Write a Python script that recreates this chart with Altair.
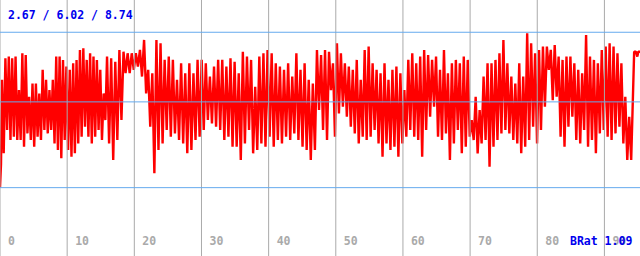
import altair as alt
import pandas as pd
import numpy as np

# Summary values shown on the chart
MIN_V, MEAN_V, MAX_V = 2.67, 6.02, 8.74
BRAT = "BRat 1.09"

# x-axis tick values / labels
x_ticks = [0, 10, 20, 30, 40, 50, 60, 70, 80, 90]

# Series values (alternating peak / trough), per chunk
start_x = [0.0, 0.15]
start_v = [2.67, 3.60]

chunk1 = [6.88, 4.01, 7.72, 4.92, 7.79, 4.53, 7.72, 4.66, 7.79, 4.53, 6.48, 4.53,
          7.92, 4.27, 7.85, 4.79, 6.22, 4.53, 6.74, 4.27, 6.74, 4.66, 6.35, 4.53,
          7.27, 4.92, 6.88, 4.79, 6.48, 4.92, 6.88, 4.40, 7.79, 4.14, 7.79, 3.82,
          7.66, 4.53, 7.40, 4.14, 7.27, 3.88, 7.53, 4.01, 7.66, 4.40, 8.05, 4.66,
          8.11, 5.05, 7.66, 4.66, 7.92, 4.40, 7.79, 4.66, 7.66, 4.92, 7.27, 4.53,
          6.35, 5.31]
chunk2 = [7.79, 4.40, 7.72, 3.75, 7.59, 4.53, 8.05, 5.31, 7.98, 7.14, 7.92, 7.14,
          7.92, 7.27, 7.92, 7.40, 8.05, 7.01, 8.44, 6.35, 7.27, 5.05, 7.14, 3.23,
          8.44, 4.14, 8.31, 4.40, 7.66, 4.92, 7.79, 4.66, 7.66, 4.79, 6.88, 4.53,
          7.53, 4.40, 7.14, 4.01, 7.53, 4.14, 7.14, 4.53, 7.66, 4.66, 7.66, 4.92,
          7.53, 5.31, 7.01, 5.18]
chunk3 = [7.40, 5.05, 7.66, 4.92, 7.66, 4.53, 7.40, 4.66, 7.72, 4.27, 7.59, 4.27,
          7.14, 3.75, 7.98, 4.40, 7.79, 4.92, 7.66, 4.01, 6.61, 4.14, 7.79, 4.40,
          7.92, 4.27, 8.05, 4.66, 7.92, 4.27, 7.53, 4.53, 7.40, 4.40, 7.27, 4.66,
          7.53, 4.53, 7.01, 4.79, 7.92, 4.53, 7.27, 4.27, 7.53, 4.14, 6.88, 3.75,
          6.74, 4.14, 8.05, 5.70]
chunk4 = [7.85, 4.92, 8.05, 4.53, 7.98, 6.48, 7.53, 4.66, 8.31, 5.57, 7.92, 5.83,
          7.53, 5.44, 7.40, 5.05, 7.27, 4.79, 7.66, 4.40, 6.88, 4.66, 8.05, 4.53,
          8.18, 4.66, 7.53, 4.92, 7.27, 4.40, 7.14, 3.88, 7.53, 4.40, 6.88, 4.14,
          7.27, 4.27, 7.40, 3.88, 7.14, 4.40, 6.48, 4.66, 7.66, 4.92, 7.92, 4.66,
          7.53, 4.53, 7.79, 3.88, 8.05, 4.92]
chunk5 = [7.85, 5.44, 7.66, 5.83, 7.79, 4.66, 7.27, 4.53, 8.05, 4.79, 7.14, 3.75,
          7.53, 4.40, 7.66, 4.92, 7.53, 4.01, 7.79, 4.27, 7.66, 4.66, 5.31, 4.53,
          6.22, 4.01, 5.70, 4.40, 7.01, 4.53, 7.53, 3.49, 7.53, 4.27, 7.66, 4.53,
          7.92, 4.79, 8.44, 4.92, 7.53, 4.79, 7.01, 4.53, 6.74, 4.40, 7.53, 4.01,
          7.01, 4.27, 8.70, 4.53, 8.31, 5.05]
chunk6 = [7.92, 4.40, 8.05, 4.92, 8.18, 5.83, 8.18, 7.27, 8.05, 6.09, 8.24, 6.22,
          7.79, 4.66, 7.66, 4.27, 7.79, 5.05, 7.79, 5.44, 7.53, 4.53, 7.27, 4.40,
          7.14, 4.92, 8.63, 4.27, 7.79, 4.53, 7.66, 4.01, 7.53, 4.79, 8.05, 4.92,
          8.18, 4.66, 8.31, 4.53, 8.18, 4.79, 7.92, 5.05, 7.53, 4.40, 6.22, 3.75,
          5.44, 3.75]
chunks = [chunk1, chunk2, chunk3, chunk4, chunk5, chunk6]
chunk_edges = [0.3, 15.94, 31.87, 47.81, 63.75, 79.68, 94.28]

tail_x = [94.43, 94.7, 94.9, 95.05, 95.3]
tail_v = [7.98, 7.98, 7.79, 7.98, 7.98]

xs = list(start_x)
vs = list(start_v)
for i, ch in enumerate(chunks):
    px = np.linspace(chunk_edges[i], chunk_edges[i + 1], len(ch), endpoint=False)
    xs.extend(px.tolist())
    vs.extend(ch)
xs.extend(tail_x)
vs.extend(tail_v)
series = pd.DataFrame({"x": xs, "v": vs, "i": range(len(xs))})

ticks_df = pd.DataFrame({"t": x_ticks, "label": [str(t) for t in x_ticks]})
hlines_df = pd.DataFrame({"v": [MIN_V, MEAN_V, MAX_V]})
info_df = pd.DataFrame({"txt": [f"{MIN_V:.2f} / {MEAN_V:.2f} / {MAX_V:.2f}"]})
brat_df = pd.DataFrame({"txt": [BRAT]})

xscale = alt.Scale(domain=[0, 95.3], nice=False, zero=False)
yscale = alt.Scale(domain=[0, 10], nice=False, zero=False)
FONT = "DejaVu Sans Mono"

line = alt.Chart(series).mark_line(
    color="#ff0000", strokeWidth=2.4, strokeJoin="bevel"
).encode(
    x=alt.X("x:Q", scale=xscale, axis=None),
    y=alt.Y("v:Q", scale=yscale, axis=None),
    order="i:Q",
)

grid = alt.Chart(ticks_df).mark_rule(color="#aaaaaa", strokeWidth=1).encode(
    x=alt.X("t:Q", scale=xscale, axis=None)
)

labels = alt.Chart(ticks_df).mark_text(
    align="left", baseline="alphabetic", dx=8, font=FONT, fontWeight="bold",
    fontSize=11.5, color="#aaaaaa"
).encode(x=alt.X("t:Q", scale=xscale, axis=None), y=alt.value(245), text="label:N")

hlines = alt.Chart(hlines_df).mark_rule(color="#66aaee", strokeWidth=1).encode(
    y=alt.Y("v:Q", scale=yscale, axis=None)
)

info = alt.Chart(info_df).mark_text(
    align="left", baseline="alphabetic", font=FONT, fontWeight="bold",
    fontSize=11.5, color="#0000ee"
).encode(x=alt.value(8), y=alt.value(19), text="txt:N")

brat = alt.Chart(brat_df).mark_text(
    align="left", baseline="alphabetic", font=FONT, fontWeight="bold",
    fontSize=11.5, color="#0000ee"
).encode(x=alt.value(570), y=alt.value(245), text="txt:N")

chart = alt.layer(line, grid, hlines, labels, info, brat).properties(
    width=640, height=256, padding=0, autosize="none", background="white"
).configure_view(stroke=None)

chart.save("out.html", embed_options={"renderer": "svg", "actions": False})
